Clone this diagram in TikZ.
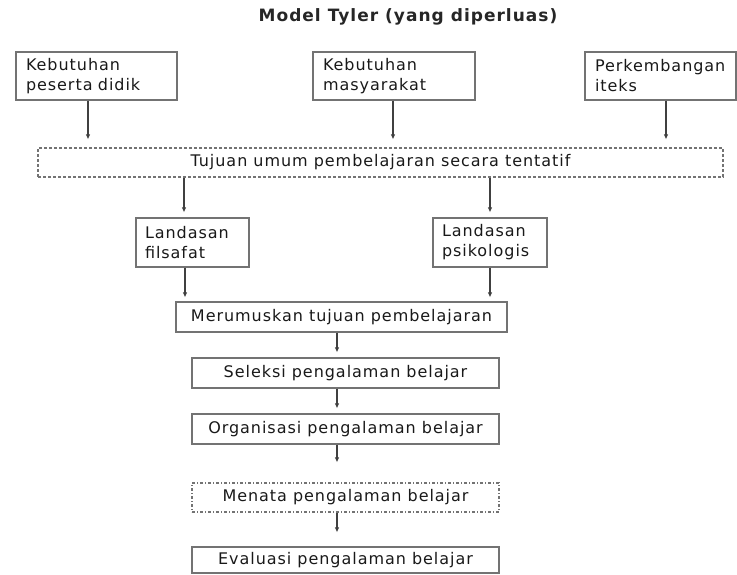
\documentclass[tikz,border=0pt]{standalone}
\usepackage{fontspec}
\setmainfont{DejaVu Sans}[LetterSpace=6]
\usetikzlibrary{arrows.meta}

\tikzset{
	kotak/.style={draw=black!55, line width=1.1pt, inner sep=0pt, text=black!90},
	kotakkiri/.style={kotak, align=left, text width=#1, minimum height=48pt},
	panah/.style={-{Latex[length=5pt,width=4.5pt]}, draw=black!75, line width=1.2pt},
}

\begin{document}
\begin{tikzpicture}[x=1pt, y=-1pt, font=\fontsize{16}{20}\selectfont]
		\useasboundingbox (0,0) rectangle (737,574);
		\node[font=\fontsize{17}{20}\selectfont\bfseries, text=black!85] (judul) at (408,17) {Model Tyler (yang diperluas)};
		\node[kotakkiri=141pt, minimum width=161pt] (k1) at (96.5,76) {Kebutuhan\\peserta didik};
		\node[kotakkiri=142pt, minimum width=162pt] (k2) at (394,76) {Kebutuhan\\masyarakat};
		\node[kotakkiri=131pt, minimum width=151pt] (k3) at (660.5,76) {Perkembangan\\iteks};
		\node[kotak, dash pattern=on 3pt off 2pt, minimum width=685pt, minimum height=29pt] (tu) at (380.5,162.5) {Tujuan umum pembelajaran secara tentatif};
		\node[kotakkiri=95pt, minimum width=113pt, minimum height=49pt] (lf) at (192.5,242.5) {Landasan\\filsafat};
		\node[kotakkiri=96pt, minimum width=114pt, minimum height=49pt] (lp) at (490,242.5) {Landasan\\psikologis};
		\node[kotak, minimum width=331pt, minimum height=30pt] (mr) at (341.5,317) {Merumuskan tujuan pembelajaran};
		\node[kotak, minimum width=307pt, minimum height=30pt] (sp) at (345.5,373) {Seleksi pengalaman belajar};
		\node[kotak, minimum width=307pt, minimum height=30pt] (op) at (345.5,429) {Organisasi pengalaman belajar};
		\node[kotak, dash pattern=on 3pt off 2pt on 1pt off 2pt, minimum width=307pt, minimum height=29pt] (mp) at (345.5,497.5) {Menata pengalaman belajar};
		\node[kotak, minimum width=307pt, minimum height=26pt] (ep) at (345.5,560) {Evaluasi pengalaman belajar};
		% kebutuhan ke tujuan umum
		\draw[panah, shorten >=8pt] (k1.south -| 88,0) -- (tu.north -| 88,0);
		\draw[panah, shorten >=8pt] (k2.south -| 393,0) -- (tu.north -| 393,0);
		\draw[panah, shorten >=8pt] (k3.south -| 666,0) -- (tu.north -| 666,0);
		% landasan
		\draw[panah, shorten >=5pt] (tu.south -| 184,0) -- (lf.north -| 184,0);
		\draw[panah, shorten >=5pt] (tu.south -| 490,0) -- (lp.north -| 490,0);
		\draw[panah, shorten >=4pt] (lf.south -| 185,0) -- (mr.north -| 185,0);
		\draw[panah, shorten >=4pt] (lp.south -| 490,0) -- (mr.north -| 490,0);
		% urutan langkah
		\draw[panah, shorten >=5pt] (mr.south -| 337,0) -- (sp.north -| 337,0);
		\draw[panah, shorten >=5pt] (sp.south -| 337,0) -- (op.north -| 337,0);
		\draw[panah, shorten >=20pt] (op.south -| 337,0) -- (mp.north -| 337,0);
		\draw[panah, shorten >=14pt] (mp.south -| 337,0) -- (ep.north -| 337,0);
	\end{tikzpicture}
\end{document}
